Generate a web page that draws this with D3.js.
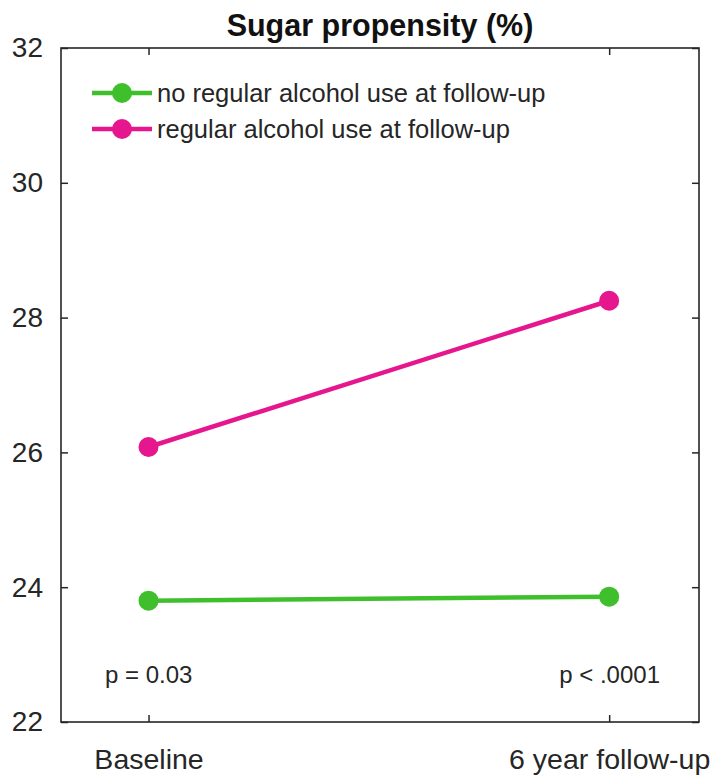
<!DOCTYPE html>
<html lang="en">
<head>
    <meta charset="UTF-8">
    <title>Sugar propensity</title>
    <script src="https://cdn.jsdelivr.net/npm/d3@7"></script>
    <style>
        body { margin: 0; background: #fff; }
        text { font-family: "Liberation Sans", Arial, sans-serif; }
    </style>
</head>
<body>
<div id="chart"></div>

<script>
    // data
    var timepoints = [1, 2];
    var timeLabels = ["Baseline", "6 year follow-up"];
    var noAlcohol = [23.8, 23.86];
    var regularAlcohol = [26.08, 28.25];
    var seriesNames = ["no regular alcohol use at follow-up", "regular alcohol use at follow-up"];
    var seriesColors = ["#3fbf2c", "#e6178e"];
    var yTicks = [22, 24, 26, 28, 30, 32];
    var pLabels = ["p = 0.03", "p < .0001"];

    var width = 717;
    var height = 776;
    var margin = {top: 48, right: 18, bottom: 54, left: 61};

    var svg = d3.select('#chart')
                .append('svg')
                .attr('width', width)
                .attr('height', height);

    var x = d3.scaleLinear()
              .domain([0.81, 2.195])
              .range([margin.left, width - margin.right]);

    var y = d3.scaleLinear()
              .domain([22, 32])
              .range([height - margin.bottom, margin.top]);

    var frameColor = "#262626";

    // axes with inward ticks, MATLAB style box
    svg.append('g')
        .attr('transform', 'translate(0,' + y(22) + ')')
        .call(d3.axisBottom(x).tickValues(timepoints).tickSize(-7).tickFormat(function(d, i) { return timeLabels[i]; }).tickPadding(27))
        .call(function(g) {
            g.select('.domain').remove();
            g.selectAll('text').attr('font-size', 28.5).attr('fill', '#262626').attr('font-family', '"Liberation Sans", Arial, sans-serif');
        });

    svg.append('g')
        .attr('transform', 'translate(0,' + y(32) + ')')
        .call(d3.axisTop(x).tickValues(timepoints).tickSize(-7).tickFormat(''))
        .call(function(g) { g.select('.domain').remove(); });

    svg.append('g')
        .attr('transform', 'translate(' + x.range()[0] + ',0)')
        .call(d3.axisLeft(y).tickValues(yTicks).tickSize(-7).tickPadding(18))
        .call(function(g) {
            g.select('.domain').remove();
            g.selectAll('text').attr('font-size', 28).attr('fill', '#262626').attr('font-family', '"Liberation Sans", Arial, sans-serif');
        });

    svg.append('g')
        .attr('transform', 'translate(' + x.range()[1] + ',0)')
        .call(d3.axisRight(y).tickValues(yTicks).tickSize(-7).tickFormat(''))
        .call(function(g) { g.select('.domain').remove(); });

    svg.selectAll('.tick line').attr('stroke', frameColor).attr('stroke-width', 1.5);

    svg.append('rect')
        .attr('x', x.range()[0])
        .attr('y', y(32))
        .attr('width', x.range()[1] - x.range()[0])
        .attr('height', y(22) - y(32))
        .attr('fill', 'none')
        .attr('stroke', frameColor)
        .attr('stroke-width', 1.6);

    // title
    svg.append('text')
        .attr('x', (x.range()[0] + x.range()[1]) / 2)
        .attr('y', 36)
        .attr('text-anchor', 'middle')
        .attr('font-size', 30.5)
        .attr('font-weight', 'bold')
        .attr('fill', '#111')
        .text('Sugar propensity (%)');

    // lines and markers
    var allSeries = [noAlcohol, regularAlcohol];
    var line = d3.line()
                 .x(function(d, i) { return x(timepoints[i]); })
                 .y(function(d) { return y(d); });

    allSeries.forEach(function(vals, s) {
        svg.append('path')
            .datum(vals)
            .attr('d', line)
            .attr('fill', 'none')
            .attr('stroke', seriesColors[s])
            .attr('stroke-width', 4.5);

        svg.selectAll('.pt' + s)
            .data(vals)
            .join('circle')
            .attr('class', 'pt' + s)
            .attr('cx', function(d, i) { return x(timepoints[i]); })
            .attr('cy', function(d) { return y(d); })
            .attr('r', 10)
            .attr('fill', seriesColors[s]);
    });

    // legend
    var legend = svg.append('g');
    seriesNames.forEach(function(name, i) {
        var ly = 93 + i * 36;
        legend.append('line')
            .attr('x1', 92).attr('x2', 152)
            .attr('y1', ly).attr('y2', ly)
            .attr('stroke', seriesColors[i])
            .attr('stroke-width', 4.5);
        legend.append('circle')
            .attr('cx', 122).attr('cy', ly)
            .attr('r', 10)
            .attr('fill', seriesColors[i]);
        legend.append('text')
            .attr('x', 157)
            .attr('y', ly + 9)
            .attr('font-size', 25.5)
            .attr('fill', '#262626')
            .text(name);
    });

    // p-values
    svg.append('text')
        .attr('x', 105)
        .attr('y', 683)
        .attr('font-size', 24)
        .attr('fill', '#262626')
        .text(pLabels[0]);

    svg.append('text')
        .attr('x', 660)
        .attr('y', 683)
        .attr('text-anchor', 'end')
        .attr('font-size', 24)
        .attr('fill', '#262626')
        .text(pLabels[1]);
</script>
</body>
</html>
